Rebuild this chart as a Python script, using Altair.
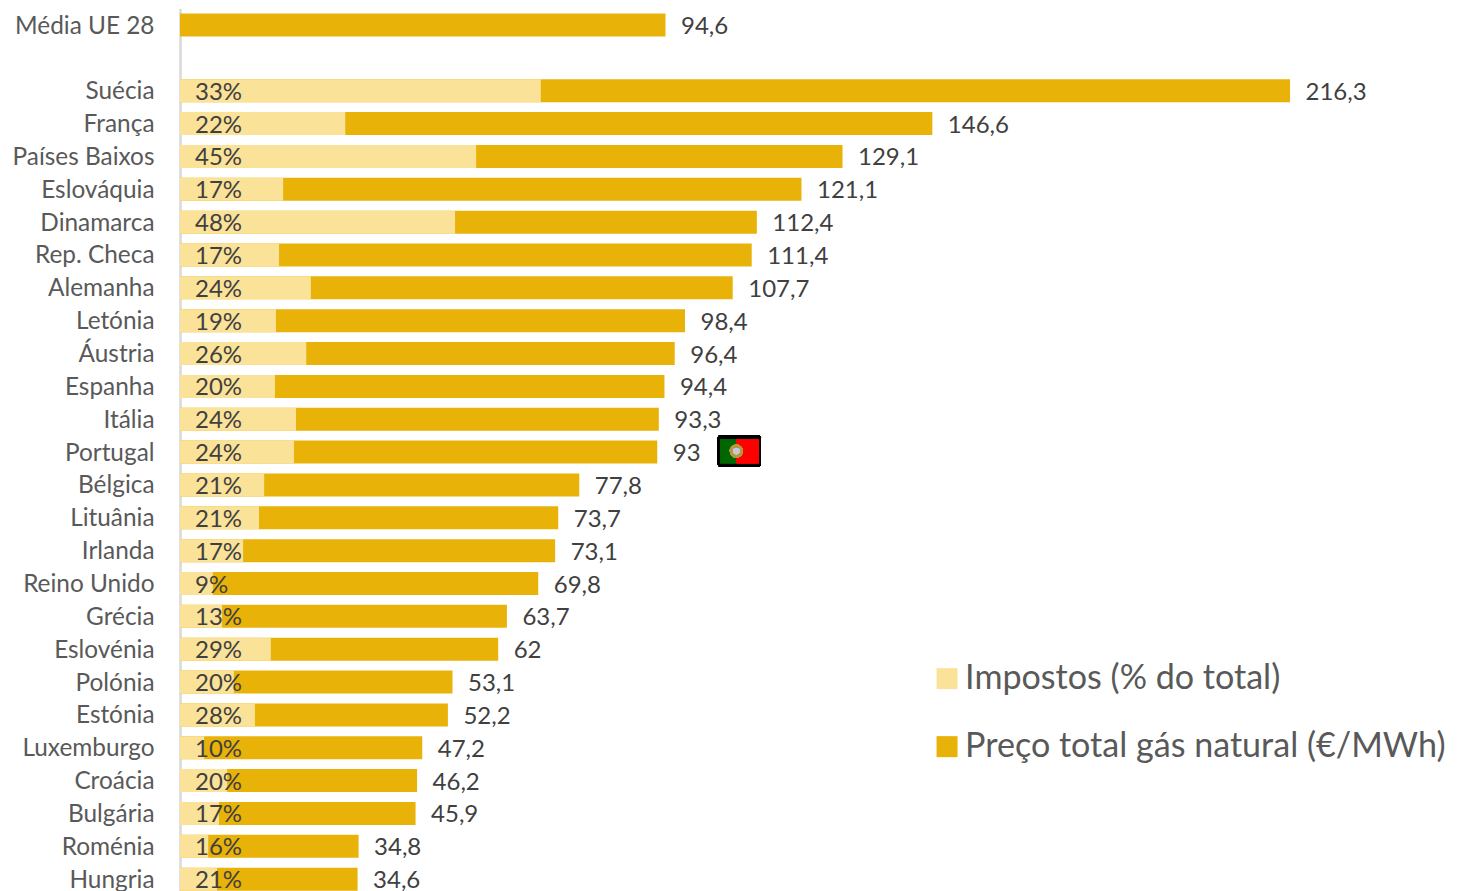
import altair as alt
import pandas as pd

countries = ["Suécia", "França", "Países Baixos", "Eslováquia", "Dinamarca", "Rep. Checa", "Alemanha",
             "Letónia", "Áustria", "Espanha", "Itália", "Portugal", "Bélgica", "Lituânia", "Irlanda",
             "Reino Unido", "Grécia", "Eslovénia", "Polónia", "Estónia", "Luxemburgo", "Croácia",
             "Bulgária", "Roménia", "Hungria"]
totals = [216.3, 146.6, 129.1, 121.1, 112.4, 111.4, 107.7, 98.4, 96.4, 94.4, 93.3, 93, 77.8, 73.7, 73.1,
          69.8, 63.7, 62, 53.1, 52.2, 47.2, 46.2, 45.9, 34.8, 34.6]
total_labels = ["216,3", "146,6", "129,1", "121,1", "112,4", "111,4", "107,7", "98,4", "96,4", "94,4", "93,3",
                "93", "77,8", "73,7", "73,1", "69,8", "63,7", "62", "53,1", "52,2", "47,2", "46,2", "45,9",
                "34,8", "34,6"]
tax_values = [70.3, 32.2, 57.7, 20.1, 53.6, 19.3, 25.5, 18.7, 24.6, 18.5, 22.6, 22.2, 16.4, 15.4, 12.3,
              6.4, 8.2, 17.7, 10.5, 14.6, 4.7, 9.2, 7.6, 5.5, 7.2]
tax_labels = ["33%", "22%", "45%", "17%", "48%", "17%", "24%", "19%", "26%", "20%", "24%", "24%", "21%", "21%",
              "17%", "9%", "13%", "29%", "20%", "28%", "10%", "20%", "17%", "16%", "21%"]
avg_name = "Média UE 28"
avg_value = 94.6
avg_label = "94,6"
series_tax = "Impostos (% do total)"
series_total = "Preço total gás natural (€/MWh)"

FONT = "Lato"
row_order = [avg_name, " "] + countries
PX = 5.132
W, H = 1269, 887

totals_df = pd.DataFrame({
    "country": [avg_name] + countries,
    "value": [avg_value] + totals,
    "label": [avg_label] + total_labels,
    "series": series_total,
})
tax_df = pd.DataFrame({"country": countries, "value": tax_values, "label": tax_labels, "series": series_tax})

x_enc = alt.X("value:Q", axis=None, scale=alt.Scale(domain=[0, W / PX], nice=False, zero=True))
y_enc = alt.Y("country:N", title=None, sort=row_order,
              scale=alt.Scale(domain=row_order, paddingInner=0.3, paddingOuter=0.15),
              axis=alt.Axis(ticks=False, grid=False, domain=True, domainColor="#d9d9d9", domainWidth=2.5,
                            labelFont=FONT, labelFontSize=24.4, labelColor="#595959", labelPadding=26,
                            labelOffset=1.5, labelLimit=300))
color_enc = alt.Color("series:N", title=None,
                      scale=alt.Scale(domain=[series_tax, series_total], range=["#fbe299", "#e9b208"]),
                      legend=alt.Legend(orient="none", legendX=750, legendY=653, symbolType="square",
                                        symbolSize=441, symbolStrokeWidth=0, labelFont=FONT, labelFontSize=34.1,
                                        labelColor="#595959", labelLimit=700, labelOffset=1, rowPadding=33,
                                        padding=0))

bars_total = alt.Chart(totals_df).mark_bar(height=23).encode(x=x_enc, y=y_enc, color=color_enc)
bars_tax = alt.Chart(tax_df).mark_bar(height=23).encode(x=x_enc, y=y_enc, color=color_enc)
text_total = alt.Chart(totals_df).mark_text(align="left", dx=15.5, dy=2, font=FONT, fontSize=24, color="#404040").encode(
    x=x_enc, y=y_enc, text="label:N")
text_tax = alt.Chart(tax_df).mark_text(align="left", dx=15, dy=2, font=FONT, fontSize=24, color="#404040").encode(
    x=alt.datum(0), y=y_enc, text="label:N")

# Portuguese flag, anchored on the Portugal row of the shared scales
flag_y = alt.datum("Portugal")
flag_border = alt.Chart(totals_df).mark_bar(height=31, color="#000000", cornerRadius=2, yOffset=-1).encode(
    x=alt.datum(104.8), x2=alt.datum(113.2), y=flag_y)
flag_green = alt.Chart(totals_df).mark_bar(height=24, color="#006600", yOffset=-1).encode(
    x=alt.datum(105.3), x2=alt.datum(108.4), y=flag_y)
flag_red = alt.Chart(totals_df).mark_bar(height=24, color="#ff0000", yOffset=-1).encode(
    x=alt.datum(108.4), x2=alt.datum(112.7), y=flag_y)
flag_ring = alt.Chart(totals_df).mark_point(filled=True, size=170, color="#b09a3c", opacity=1, yOffset=-1).encode(
    x=alt.datum(108.4), y=flag_y)
flag_core = alt.Chart(totals_df).mark_point(filled=True, size=40, color="#c9c4d8", opacity=1, yOffset=-1).encode(
    x=alt.datum(108.4), y=flag_y)

chart = alt.layer(bars_total, bars_tax, text_total, text_tax,
                  flag_border, flag_green, flag_red, flag_ring, flag_core).properties(
    width=W, height=H,
    padding={"left": 172, "top": 0.6, "right": 0, "bottom": 0},
    autosize=alt.AutoSizeParams(type="none"),
).configure_view(stroke=None)

chart.save("out.html", embed_options={"renderer": "svg", "actions": False})
